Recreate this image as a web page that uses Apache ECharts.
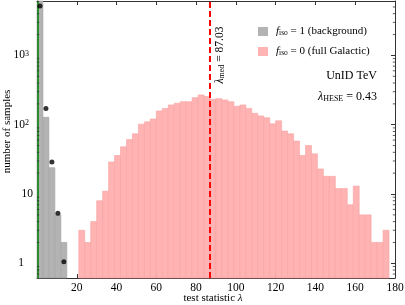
<!DOCTYPE html>
<html>
<head>
<meta charset="utf-8">
<script src="https://cdn.jsdelivr.net/npm/echarts@6/dist/echarts.min.js"></script>
<style>
html,body{margin:0;padding:0;background:#fff;}
#c{width:405px;height:305px;}
</style>
</head>
<body>
<div id="c"></div>
<script>
// ---- data ----
const binWidth = 3;
const bkgBinStarts = [0, 3, 6, 9, 12];
const bkgCounts = [6800, 128, 24, 5, 2];
const galBinStarts = [21, 24, 27, 30, 33, 36, 39, 42, 45, 48, 51, 54, 57, 60, 63, 66, 69, 72, 75, 78, 81, 84, 87, 90, 93, 96, 99, 102, 105, 108, 111, 114, 117, 120, 123, 126, 129, 132, 135, 138, 141, 144, 147, 150, 153, 156, 159, 162, 165, 168, 171, 174];
const galCounts = [3, 2, 4, 8, 11, 29, 36, 48, 61, 74, 102, 110, 121, 158, 171, 193, 204, 215, 215, 246, 269, 255, 233, 238, 228, 215, 184, 193, 172, 146, 134, 126, 103, 114, 81, 74, 58, 36, 50, 38, 23, 18, 18, 12, 12, 7, 13, 5, 5, 2, 2, 3];
const expectedX = [1.5, 4.5, 7.5, 10.5, 13.5];
const expectedY = [5150, 171, 29, 5.3, 1.05];
const lambdaMed = 87.03;
const lambdaHESE = 0.43;
const xTicks = {min: 0, max: 180, interval: 20};
const yRange = {min: 0.614, max: 6100};
const minorYTicks = [0.7, 0.8, 0.9, 2, 3, 4, 5, 6, 7, 8, 9, 20, 30, 40, 50, 60, 70, 80, 90, 200, 300, 400, 500, 600, 700, 800, 900, 2000, 3000, 4000, 5000, 6000];

const FONT = 'Liberation Serif';
const bkgColor = '#b3b3b3';
const galColor = '#ffb3b3';

function histData(starts, counts) {
  return starts.map((s, i) => [s, s + binWidth, counts[i]]);
}

function histRender(fill, stroke) {
  return function (params, api) {
    const x0 = api.value(0), x1 = api.value(1), v = api.value(2);
    const p0 = api.coord([x0, v]);
    const p1 = api.coord([x1, v]);
    const cs = params.coordSys;
    const bottom = cs.y + cs.height;
    const rect = echarts.graphic.clipRectByRect(
      {x: p0[0], y: p0[1], width: p1[0] - p0[0], height: bottom - p0[1]},
      {x: cs.x, y: cs.y, width: cs.width, height: cs.height}
    );
    if (!rect) return;
    return {type: 'rect', shape: rect, style: {fill: fill, stroke: stroke, lineWidth: 0.6}};
  };
}

const chart = echarts.init(document.getElementById('c'), null, {renderer: 'canvas'});

const axisLineStyle = {color: '#333', width: 1};

const option = {
  animation: false,
  backgroundColor: '#fff',
  grid: {left: 37, right: 10, top: 1, bottom: 27, containLabel: false, outerBoundsMode: 'none'},
  legend: {
    orient: 'vertical',
    left: 253,
    top: 19,
    itemWidth: 10,
    itemHeight: 9,
    itemGap: 7,
    icon: 'rect',
    data: ['bkg', 'gal'],
    textStyle: {
      fontFamily: FONT, fontSize: 11, color: '#000', padding: [0, 0, 0, 3],
      rich: {
        i: {fontFamily: FONT, fontSize: 11, fontStyle: 'italic', color: '#000'},
        sub: {fontFamily: FONT, fontSize: 7.5, color: '#000', verticalAlign: 'bottom', lineHeight: 8, padding: [5, 0, 0, 0]},
        n: {fontFamily: FONT, fontSize: 11, color: '#000'}
      }
    },
    formatter: function (name) {
      if (name === 'bkg') return '{i|f}{sub|iso}{n| = 1 (background)}';
      return '{i|f}{sub|iso}{n| = 0 (full Galactic)}';
    }
  },
  xAxis: [{
    type: 'value', min: xTicks.min, max: xTicks.max, interval: xTicks.interval,
    position: 'bottom',
    name: 'test statistic {i|λ}',
    nameLocation: 'middle', nameGap: 15, nameMoveOverlap: false,
    nameTextStyle: {fontFamily: FONT, fontSize: 11, color: '#000', padding: [0, 6, 0, 0],
      rich: {i: {fontFamily: FONT, fontSize: 11, fontStyle: 'italic', color: '#000'}}},
    axisLine: {show: true, onZero: false, lineStyle: axisLineStyle},
    axisTick: {show: true, inside: true, length: 4, lineStyle: {color: '#333'}},
    axisLabel: {fontFamily: FONT, fontSize: 11.5, color: '#000', margin: 4,
      formatter: v => (v === xTicks.min ? '' : String(v))},
    splitLine: {show: false}
  }, {
    type: 'value', min: xTicks.min, max: xTicks.max, interval: xTicks.interval,
    position: 'top',
    axisLine: {show: true, onZero: false, lineStyle: axisLineStyle},
    axisTick: {show: true, inside: true, length: 4, lineStyle: {color: '#333'}},
    axisLabel: {show: false},
    splitLine: {show: false}
  }],
  yAxis: [{
    type: 'log', logBase: 10, min: yRange.min, max: yRange.max,
    position: 'left',
    name: 'number of samples',
    nameLocation: 'middle', nameGap: 24, nameMoveOverlap: false,
    nameTextStyle: {fontFamily: FONT, fontSize: 11, color: '#000', padding: [0, 0, 0, 16]},
    axisLine: {show: true, onZero: false, lineStyle: axisLineStyle},
    axisTick: {show: true, inside: true, length: 4, lineStyle: {color: '#333'}},
    axisLabel: {
      fontFamily: FONT, fontSize: 11.5, color: '#000', margin: 4,
      showMinLabel: false, showMaxLabel: false,
      formatter: function (v) {
        const l = Math.log10(v);
        const e = Math.round(l);
        if (Math.abs(l - e) > 1e-6) return '';
        if (e === 0) return '{one|1}';
        if (e === 1) return '{ten|10}';
        return '{b|10}{sup|' + e + '}';
      },
      rich: {
        one: {fontFamily: FONT, fontSize: 11.5, color: '#000', padding: [0, 9, 0, 0]},
        ten: {fontFamily: FONT, fontSize: 11.5, color: '#000'},
        b: {fontFamily: FONT, fontSize: 11.5, color: '#000'},
        sup: {fontFamily: FONT, fontSize: 8, color: '#000', verticalAlign: 'top', lineHeight: 8, padding: [0, 4, 5, 0]}
      }
    },
    splitLine: {show: false}
  }, {
    type: 'log', logBase: 10, min: yRange.min, max: yRange.max,
    position: 'right',
    axisLine: {show: true, onZero: false, lineStyle: axisLineStyle},
    axisTick: {show: true, inside: true, length: 4, lineStyle: {color: '#333'}},
    axisLabel: {show: false},
    splitLine: {show: false}
  }],
  series: [{
    name: 'gal',
    type: 'custom',
    xAxisIndex: 0, yAxisIndex: 0,
    itemStyle: {color: galColor},
    encode: {x: [0, 1], y: 2},
    data: histData(galBinStarts, galCounts),
    renderItem: histRender(galColor, '#f6a2a2'),
    z: 2
  }, {
    name: 'bkg',
    type: 'custom',
    xAxisIndex: 0, yAxisIndex: 0,
    itemStyle: {color: bkgColor},
    encode: {x: [0, 1], y: 2},
    data: histData(bkgBinStarts, bkgCounts),
    renderItem: histRender(bkgColor, '#a3a3a3'),
    z: 2
  }, {
    name: 'minorTicks',
    type: 'custom',
    xAxisIndex: 0, yAxisIndex: 0,
    silent: true,
    encode: {x: 0, y: 1},
    data: minorYTicks.map(v => [xTicks.min, v]),
    renderItem: function (params, api) {
      const p = api.coord([xTicks.min, api.value(1)]);
      const cs = params.coordSys;
      return {type: 'group', children: [
        {type: 'line', shape: {x1: cs.x, y1: p[1], x2: cs.x + 2.2, y2: p[1]}, style: {stroke: '#333', lineWidth: 0.8}},
        {type: 'line', shape: {x1: cs.x + cs.width - 2.2, y1: p[1], x2: cs.x + cs.width, y2: p[1]}, style: {stroke: '#333', lineWidth: 0.8}}
      ]};
    },
    z: 5
  }, {
    name: 'expected',
    type: 'scatter',
    xAxisIndex: 0, yAxisIndex: 0,
    data: expectedX.map((x, i) => [x, expectedY[i]]),
    symbol: 'circle',
    symbolSize: 5,
    itemStyle: {color: '#000'},
    z: 10,
    markLine: {
      silent: true,
      symbol: ['none', 'none'],
      label: {show: false},
      animation: false,
      data: [
        {xAxis: lambdaMed, lineStyle: {color: '#ff0000', width: 2, type: [6, 3]}},
        {xAxis: lambdaHESE, lineStyle: {color: '#008000', width: 1.5, type: 'solid'}}
      ]
    }
  }]
};

chart.setOption(option);

const medPx = chart.convertToPixel({xAxisIndex: 0}, lambdaMed);

chart.setOption({
  graphic: [{
    type: 'text',
    x: medPx + 10,
    y: 55,
    rotation: Math.PI / 2,
    style: {
      text: '{l|λ}{sub|med}{n| = ' + lambdaMed.toFixed(2) + '}',
      align: 'center', verticalAlign: 'middle',
      rich: {
        l: {fontFamily: FONT, fontSize: 11.5, fontStyle: 'italic', fill: '#000'},
        sub: {fontFamily: FONT, fontSize: 8, fill: '#000', verticalAlign: 'bottom', lineHeight: 8, padding: [5, 0, 0, 0]},
        n: {fontFamily: FONT, fontSize: 11.5, fill: '#000'}
      }
    },
    z: 20
  }, {
    type: 'text',
    x: 377,
    y: 76,
    style: {
      text: 'UnID TeV',
      align: 'right', verticalAlign: 'middle',
      fontFamily: FONT, fontSize: 12, fill: '#000'
    },
    z: 20
  }, {
    type: 'text',
    x: 377,
    y: 97,
    style: {
      text: '{l|λ}{sub|HESE}{n| = ' + lambdaHESE.toFixed(2) + '}',
      align: 'right', verticalAlign: 'middle',
      rich: {
        l: {fontFamily: FONT, fontSize: 12, fontStyle: 'italic', fill: '#000'},
        sub: {fontFamily: FONT, fontSize: 8, fill: '#000', verticalAlign: 'bottom', lineHeight: 8, padding: [5, 0, 0, 0]},
        n: {fontFamily: FONT, fontSize: 12, fill: '#000'}
      }
    },
    z: 20
  }]
});
</script>
</body>
</html>
